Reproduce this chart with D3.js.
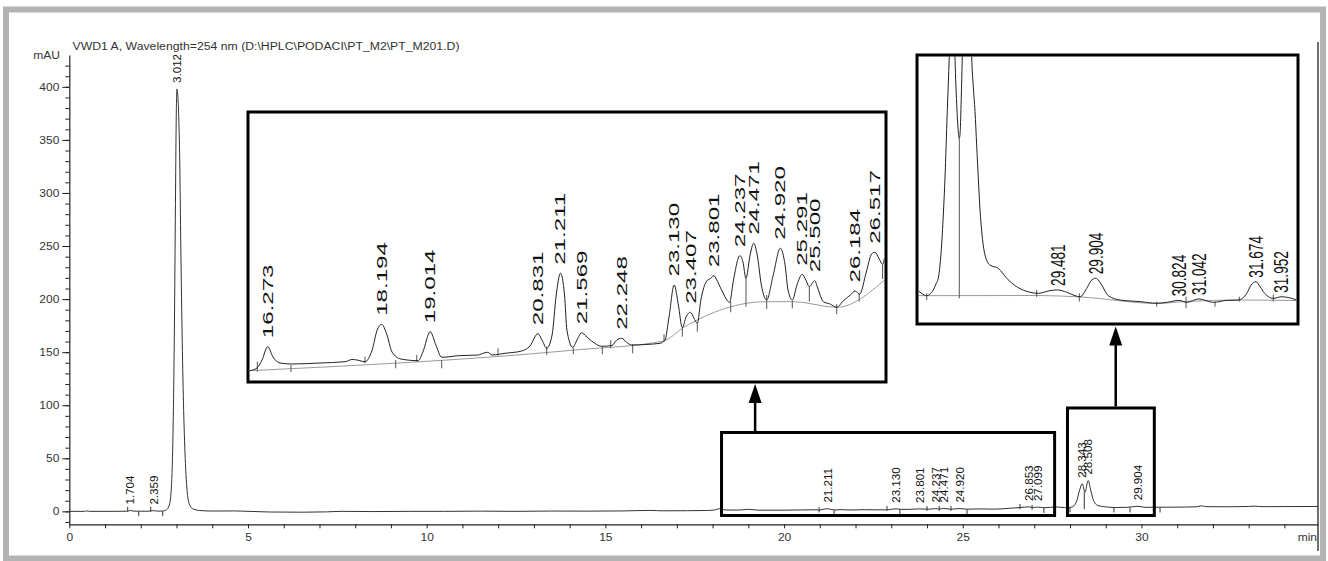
<!DOCTYPE html>
<html><head><meta charset="utf-8">
<script src="https://cdn.jsdelivr.net/npm/d3@7"></script>
<style>
html,body{margin:0;padding:0;background:#fff;}
svg{display:block;font-family:"Liberation Sans",Arial,Helvetica,sans-serif;}
</style></head><body>
<svg id="chart" width="1328" height="561"></svg>
<script>
// ---------- data ----------
const titleText = "VWD1 A, Wavelength=254 nm (D:\\HPLC\\PODACI\\PT_M2\\PT_M201.D)";
const yUnit = "mAU";
const xUnit = "min";
const xTickLabels = [0, 5, 10, 15, 20, 25, 30];
const yTickLabels = [0, 50, 100, 150, 200, 250, 300, 350, 400];

// full chromatogram: [retention time (min), signal (mAU)]
const mainTrace = [[0,0],[0.42,0],[0.49,0.4],[0.56,0],[1.2,0],[1.6,0.1],[1.704,0.8],[1.8,0.2],[2.2,0.1],[2.359,0.7],[2.45,0.2],[2.62,0.3],[2.72,1.5],[2.80,6],[2.86,25],[2.90,70],[2.94,170],[2.97,290],[2.99,365],[3.012,398],[3.035,392],[3.06,375],[3.09,330],[3.12,250],[3.16,160],[3.20,95],[3.25,45],[3.31,15],[3.38,5],[3.48,2],[3.65,0.8],[4.0,0.3],[4.6,0.4],[5.0,0],[5.6,-0.6],[6.5,-0.8],[7.2,-0.5],[7.6,0],[8.5,-0.2],[9.5,0],[10.5,0],[11.5,0.2],[12.5,0],[13.5,0.3],[14.5,0.2],[15.5,0.4],[16.27,0.9],[16.6,0.5],[17.3,0.6],[17.8,0.8],[18.05,1.2],[18.19,2.6],[18.35,1.3],[18.7,1.2],[19.01,1.9],[19.3,1.1],[20.0,1.1],[20.83,1.5],[21.0,1.3],[21.211,2.6],[21.4,1.3],[21.57,1.6],[21.9,1.3],[22.25,1.6],[22.6,1.4],[22.9,1.5],[23.13,2.4],[23.3,1.8],[23.5,1.9],[23.801,2.3],[24.05,2.0],[24.237,2.6],[24.35,2.2],[24.471,2.8],[24.65,2.0],[24.92,2.6],[25.15,2.0],[25.4,2.3],[25.9,2.1],[26.3,2.9],[26.6,3.6],[26.853,4.2],[26.97,3.6],[27.099,4.0],[27.3,3.4],[27.6,4.2],[27.85,3.5],[28.05,4.0],[28.18,9],[28.27,20],[28.343,26],[28.42,18],[28.508,29],[28.58,20],[28.66,10],[28.78,5.5],[29.0,4.2],[29.3,3.6],[29.6,3.8],[29.904,4.8],[30.1,3.8],[30.6,3.9],[31.2,4.0],[31.55,4.3],[31.674,5.2],[31.8,4.4],[32.4,4.3],[33.0,4.6],[33.15,4.9],[33.4,4.4],[34.0,4.5],[34.94,4.6]];

// labelled peaks on the full chromatogram: retention time, apex height (mAU)
const mainPeakRT = [1.704, 2.359, 3.012, 21.211, 23.130, 23.801, 24.237, 24.471, 24.920, 26.853, 27.099, 28.343, 28.508, 29.904];
const mainPeakH  = [0.8, 0.7, 398, 2.6, 2.4, 2.3, 2.6, 2.8, 2.6, 4.2, 4.0, 26, 29, 4.8];

// integration marks on the full chromatogram: [time, top, bottom] (mAU)
const mainMarks = [[1.634,4.3,-0.3],[1.942,0,-4.5],[2.278,4.3,-0.3],[2.613,0,-4.5],[20.98,4,-1],[21.40,1.3,-3.5],[22.88,5,0.5],[23.24,1.8,-3],[24.0,5,0.5],[24.34,5,0.5],[24.67,5,0.5],[25.12,2,-2.5],[26.6,7,2],[26.94,6,1.5],[27.27,3.4,-1.5],[28.0,4,-1],[28.40,18,2],[29.23,3.6,-1],[29.68,3.8,-1],[30.52,3.9,-1]];

// expanded view 1 (16 - 26.7 min)
const zoomOneTrace = [[15.966,0.226],[16.092,0.28],[16.177,0.44],[16.273,0.706],[16.362,0.50],[16.48,0.38],[16.678,0.36],[17.155,0.38],[17.577,0.406],[17.695,0.45],[17.78,0.44],[17.914,0.406],[18.035,0.64],[18.12,1.04],[18.194,1.154],[18.28,0.96],[18.37,0.60],[18.52,0.46],[18.813,0.426],[18.89,0.6],[19.014,1.006],[19.11,0.74],[19.208,0.494],[19.488,0.526],[19.82,0.54],[19.92,0.58],[19.984,0.594],[20.057,0.54],[20.276,0.574],[20.557,0.62],[20.697,0.72],[20.831,0.966],[20.90,0.84],[20.98,0.674],[21.07,0.94],[21.14,1.74],[21.211,2.174],[21.28,1.74],[21.32,1.04],[21.418,0.694],[21.49,0.84],[21.569,0.986],[21.64,0.92],[21.738,0.82],[21.907,0.714],[22.08,0.73],[22.16,0.84],[22.248,0.874],[22.32,0.8],[22.414,0.74],[22.64,0.75],[22.891,0.774],[22.975,0.84],[23.04,1.28],[23.130,1.94],[23.2,1.54],[23.267,1.086],[23.33,1.30],[23.407,1.394],[23.46,1.28],[23.52,1.174],[23.58,1.64],[23.678,2.02],[23.73,2.06],[23.801,2.126],[23.84,2.06],[23.93,1.84],[24.064,1.594],[24.13,2.04],[24.237,2.526],[24.29,2.4],[24.34,2.074],[24.41,2.54],[24.471,2.774],[24.53,2.54],[24.6,1.94],[24.69,1.64],[24.8,2.14],[24.920,2.674],[25.0,2.34],[25.05,1.84],[25.124,1.64],[25.2,1.94],[25.291,2.154],[25.35,2.04],[25.41,1.906],[25.500,2.026],[25.55,1.88],[25.645,1.606],[25.76,1.56],[25.871,1.494],[25.98,1.62],[26.1,1.74],[26.184,1.82],[26.258,1.754],[26.37,2.2],[26.46,2.56],[26.517,2.594],[26.58,2.48],[26.645,2.354],[26.678,2.48]];
const zoomOneBase = [[15.966,0.226],[21.457,0.64],[22.946,0.82],[23.284,1.086],[24.69,1.606],[25.14,1.606],[25.871,1.494],[26.678,2.04]];
const zoomOnePeakRT = [16.273, 18.194, 19.014, 20.831, 21.211, 21.569, 22.248, 23.130, 23.407, 23.801, 24.237, 24.471, 24.920, 25.291, 25.500, 26.184, 26.517];
const zoomOnePeakH  = [0.706, 1.154, 1.006, 0.966, 2.174, 0.986, 0.874, 1.94, 1.394, 2.126, 2.526, 2.774, 2.674, 2.154, 2.026, 1.82, 2.594];
const zoomOneMarks = [[16.098,0.406,0.206],[16.666,0.34,0.2],[17.914,0.506,0.374],[18.432,0.44,0.274],[18.787,0.54,0.406],[19.208,0.44,0.274],[20.158,0.674,0.526],[20.98,0.706,0.54],[21.428,0.694,0.554],[21.917,0.706,0.554],[22.059,0.84,0.674],[22.43,0.754,0.574],[22.958,0.954,0.806],[23.267,1.086,0.906],[23.52,1.174,1.006],[24.083,1.606,1.394],[24.341,2.074,1.506],[24.69,1.74,1.46],[25.122,1.62,1.474],[25.409,1.906,1.606],[25.871,1.554,1.354],[26.25,1.774,1.606],[26.645,2.354,2.06]];

// expanded view 2 (28 - 32.1 min)
const zoomTwoTrace = [[27.945,2.5],[27.98,2.37],[28.036,2.24],[28.072,2.33],[28.109,2.56],[28.138,2.89],[28.164,3.21],[28.183,3.94],[28.201,5.06],[28.221,6.89],[28.238,8.78],[28.263,12.46],[28.285,15.5],[28.298,17.6],[28.315,21.4],[28.337,17.6],[28.348,15.5],[28.37,12.6],[28.385,11.35],[28.396,10.98],[28.406,11.35],[28.417,13.1],[28.429,15.5],[28.44,18.1],[28.48,23.1],[28.52,18.1],[28.533,15.5],[28.55,13.9],[28.57,12.46],[28.588,10.6],[28.606,8.76],[28.625,7.0],[28.644,5.79],[28.68,4.5],[28.735,3.94],[28.827,3.76],[28.92,3.21],[29.03,2.74],[29.177,2.43],[29.269,2.37],[29.398,2.52],[29.481,2.56],[29.583,2.43],[29.674,2.24],[29.73,2.18],[29.804,2.65],[29.85,3.06],[29.904,3.21],[29.94,3.06],[29.97,2.83],[30.042,2.24],[30.172,2.0],[30.393,1.91],[30.577,1.82],[30.688,1.87],[30.824,1.98],[30.909,1.87],[31.042,2.06],[31.203,1.87],[31.351,1.98],[31.479,2.0],[31.572,2.37],[31.62,2.83],[31.674,3.02],[31.708,2.83],[31.755,2.46],[31.866,2.09],[31.952,2.18],[32.069,2.09],[32.122,2.0]];
const zoomTwoBase = [[27.945,2.24],[29.266,2.25],[29.73,2.17],[30.577,1.81],[30.909,1.92],[31.495,2.0],[32.122,1.97]];
const zoomTwoPeakRT = [29.481, 29.904, 30.824, 31.042, 31.674, 31.952];
const zoomTwoPeakH  = [2.56, 3.21, 1.98, 2.06, 3.02, 2.18];
const zoomTwoMarks = [[28.036,2.37,2.0],[28.396,10.98,2.09],[29.251,2.56,2.17],[29.722,2.37,1.91],[30.577,1.91,1.63],[30.901,2.18,1.54],[31.221,1.91,1.63],[31.49,2.18,1.91],[31.865,2.31,1.91]];

// time / signal windows that the two expanded views come from
const windowT0 = [18.25, 27.93];
const windowT1 = [27.57, 30.36];
const windowTop = [74.3, 97.4];
const windowBottom = [-3.9, -3.9];

// ---------- drawing ----------
const svg = d3.select("#chart");
const ink = "#222";

// outer frame
svg.append("rect").attr("x", 6).attr("y", 9.5).attr("width", 1317).attr("height", 549)
  .attr("fill", "none").attr("stroke", "#b3b3b3").attr("stroke-width", 6);

// right-hand border of the plot
svg.append("line").attr("x1", 1318).attr("x2", 1318).attr("y1", 42).attr("y2", 551)
  .attr("stroke", ink).attr("stroke-width", 1.3);

const x = d3.scaleLinear().domain([0, 34.94]).range([69.3, 1318]);
const y = d3.scaleLinear().domain([-12.2, 430]).range([524.3, 55]);

// horizontally widened text helper
function wideText(g, px, py, txt, anchor, size) {
  const t = g.append("g").attr("transform", `translate(${px},${py}) scale(1.2,1)`)
    .append("text").attr("text-anchor", anchor).attr("font-size", size).attr("fill", "#333").text(txt);
  return t;
}

// title
svg.append("text").attr("x", 72.5).attr("y", 49.5).attr("font-size", 10)
  .attr("fill", "#333").attr("textLength", 387).attr("lengthAdjust", "spacingAndGlyphs").text(titleText);

// y axis: minor then major ticks
const yMinor = svg.append("g").attr("transform", "translate(69.3,0)")
  .call(d3.axisLeft(y).tickValues(d3.range(-10, 421, 10)).tickSize(4).tickFormat(""));
yMinor.select(".domain").remove();
const yMajor = svg.append("g").attr("transform", "translate(69.3,0)")
  .call(d3.axisLeft(y).tickValues(yTickLabels).tickSize(7).tickSizeOuter(0).tickPadding(3));
yMajor.selectAll("text").attr("font-size", 10).attr("fill", "#333").attr("x", -8.3)
  .attr("transform", "scale(1.2,1)").attr("font-family", null);
yMajor.attr("font-family", null);
svg.selectAll(".tick line").attr("stroke", ink);
yMajor.select(".domain").attr("stroke", ink).attr("stroke-width", 1.2);
wideText(svg, 60, 58.5, yUnit, "end", 10);

// x axis
const xAxis = svg.append("g").attr("transform", "translate(0,524.3)")
  .call(d3.axisBottom(x).tickValues(d3.range(0, 35, 1)).tickSize(4).tickSizeOuter(0)
    .tickFormat(d => xTickLabels.includes(d) ? String(d) : ""));
xAxis.attr("font-family", null);
xAxis.selectAll("text").attr("font-size", 10).attr("fill", "#333").attr("y", 9.5).attr("transform", "scale(1.2,1)");
xAxis.selectAll(".tick line").attr("stroke", ink);
xAxis.select(".domain").attr("stroke", ink).attr("stroke-width", 1.2);
wideText(svg, 1317, 541, xUnit, "end", 10);

// generic trace / label / mark drawing
const lineGen = (sx, sy) => d3.line().x(d => sx(d[0])).y(d => sy(d[1])).curve(d3.curveMonotoneX);

function drawTrace(g, data, sx, sy, color, width) {
  g.append("path").datum(data).attr("d", lineGen(sx, sy))
    .attr("fill", "none").attr("stroke", color).attr("stroke-width", width).attr("stroke-linejoin", "round");
}
function drawMarks(g, marks, sx, sy, color) {
  g.selectAll(null).data(marks).join("line")
    .attr("x1", d => sx(d[0])).attr("x2", d => sx(d[0]))
    .attr("y1", d => sy(d[1])).attr("y2", d => sy(d[2]))
    .attr("stroke", color).attr("stroke-width", 1);
}
function drawLabels(g, rts, hs, sx, sy, gap, size, stretch) {
  g.selectAll(null).data(rts.map((r, i) => ({ rt: r, h: hs[i] }))).join("g")
    .attr("transform", d => `translate(${sx(d.rt)},${sy(d.h) - gap}) rotate(-90) scale(${stretch},1)`)
    .append("text").attr("dy", "0.36em").attr("font-size", size).attr("fill", "#111")
    .text(d => d.rt.toFixed(3));
}

// full chromatogram
const main = svg.append("g");
drawMarks(main, mainMarks, x, y, "#333");
drawTrace(main, mainTrace, x, y, "#333", 1);
drawLabels(main, mainPeakRT, mainPeakH, x, y, 6, 11.6, 1);

// windows on the full chromatogram
for (let i = 0; i < windowT0.length; i++) {
  svg.append("rect").attr("x", x(windowT0[i])).attr("y", y(windowTop[i]))
    .attr("width", x(windowT1[i]) - x(windowT0[i])).attr("height", y(windowBottom[i]) - y(windowTop[i]))
    .attr("fill", "none").attr("stroke", "#000").attr("stroke-width", 3);
}

// expanded views
function expanded(id, box, sx, sy, trace, base, marks, rts, hs, gap, size, stretch) {
  svg.append("clipPath").attr("id", id).append("rect")
    .attr("x", box.x + 1.5).attr("y", box.y + 1.5).attr("width", box.w - 3).attr("height", box.h - 3);
  svg.append("rect").attr("x", box.x).attr("y", box.y).attr("width", box.w).attr("height", box.h)
    .attr("fill", "#fff").attr("stroke", "none");
  const g = svg.append("g").attr("clip-path", `url(#${id})`);
  drawTrace(g, base, sx, sy, "#9a9a9a", 1);
  drawMarks(g, marks, sx, sy, "#555");
  drawTrace(g, trace, sx, sy, "#222", 1);
  drawLabels(g, rts, hs, sx, sy, gap, size, stretch);
  svg.append("rect").attr("x", box.x).attr("y", box.y).attr("width", box.w).attr("height", box.h)
    .attr("fill", "none").attr("stroke", "#000").attr("stroke-width", 3);
}

const boxOne = { x: 248, y: 112, w: 638, h: 270 };
const sx1 = d3.scaleLinear().domain([16.273, 26.517]).range([267.7, 875]);
const sy1 = d3.scaleLinear().domain([0, 5]).range([382, 132]);
expanded("clipOne", boxOne, sx1, sy1, zoomOneTrace, zoomOneBase, zoomOneMarks, zoomOnePeakRT, zoomOnePeakH, 8.5, 14, 1.72);

const boxTwo = { x: 917, y: 55, w: 381, h: 269 };
const sx2 = d3.scaleLinear().domain([29.481, 31.674]).range([1057.5, 1256]);
const sy2 = d3.scaleLinear().domain([0, 15]).range([336, 66]);
expanded("clipTwo", boxTwo, sx2, sy2, zoomTwoTrace, zoomTwoBase, zoomTwoMarks, zoomTwoPeakRT, zoomTwoPeakH, 4, 20, 0.68);

// arrows from each window up to its expanded view
function arrow(px, yFrom, yTo) {
  svg.append("line").attr("x1", px).attr("x2", px).attr("y1", yFrom).attr("y2", yTo + 18)
    .attr("stroke", "#000").attr("stroke-width", 2.5);
  svg.append("path").attr("d", `M${px},${yTo} L${px - 6.5},${yTo + 19} L${px + 6.5},${yTo + 19} Z`).attr("fill", "#000");
}
arrow(x(19.19), y(windowTop[0]) - 1.5, boxOne.y + boxOne.h + 2);
arrow(x(29.28), y(windowTop[1]) - 1.5, boxTwo.y + boxTwo.h + 2.5);
</script>
</body></html>
